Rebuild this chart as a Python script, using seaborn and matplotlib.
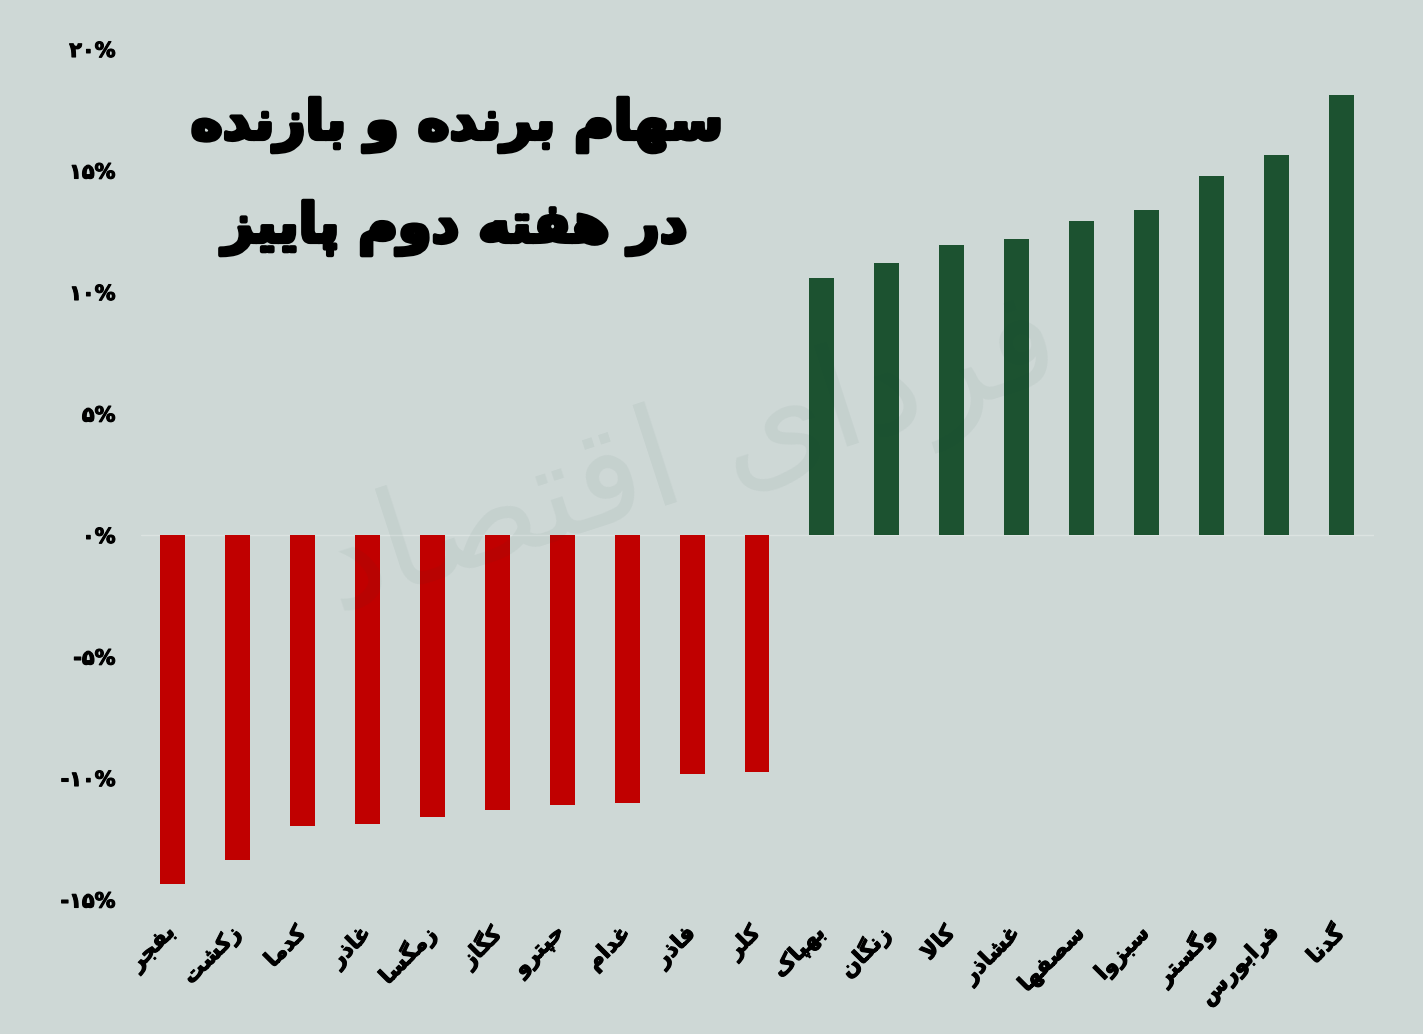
import matplotlib
matplotlib.use("Agg")
import matplotlib.pyplot as plt
import matplotlib.patheffects as pe
from matplotlib.transforms import ScaledTranslation
import seaborn as sns
import pandas as pd

# ---------------- data ----------------
names = ["بفجر", "زکشت", "کدما", "غاذر", "زمگسا", "کگاز", "حپترو", "غدام", "فاذر", "کلر",
         "بهپاک", "زنگان", "کالا", "غشاذر", "سصفها", "سبزوا", "وگستر", "فرابورس", "گدنا"]
values = [-14.36, -13.37, -11.98, -11.89, -11.60, -11.32, -11.11, -11.03, -9.84, -9.75,
          10.58, 11.19, 11.93, 12.18, 12.92, 13.37, 14.77, 15.64, 18.11]
ytick_values = [-15, -10, -5, 0, 5, 10, 15, 20]
ytick_labels = ["-۱۵%", "-۱۰%", "-۵%", "۰%", "۵%", "۱۰%", "۱۵%", "۲۰%"]
title_lines = ["سهام برنده و بازنده", "در هفته دوم پاییز"]
watermark = "فردای اقتصاد"

# ---------------- simple Persian shaping ----------------
FORMS = {
    'ا': ('\uFE8D', '\uFE8E', None, None),
    'ب': ('\uFE8F', '\uFE90', '\uFE91', '\uFE92'),
    'ت': ('\uFE95', '\uFE96', '\uFE97', '\uFE98'),
    'ث': ('\uFE99', '\uFE9A', '\uFE9B', '\uFE9C'),
    'ج': ('\uFE9D', '\uFE9E', '\uFE9F', '\uFEA0'),
    'ح': ('\uFEA1', '\uFEA2', '\uFEA3', '\uFEA4'),
    'خ': ('\uFEA5', '\uFEA6', '\uFEA7', '\uFEA8'),
    'د': ('\uFEA9', '\uFEAA', None, None),
    'ذ': ('\uFEAB', '\uFEAC', None, None),
    'ر': ('\uFEAD', '\uFEAE', None, None),
    'ز': ('\uFEAF', '\uFEB0', None, None),
    'س': ('\uFEB1', '\uFEB2', '\uFEB3', '\uFEB4'),
    'ش': ('\uFEB5', '\uFEB6', '\uFEB7', '\uFEB8'),
    'ص': ('\uFEB9', '\uFEBA', '\uFEBB', '\uFEBC'),
    'ض': ('\uFEBD', '\uFEBE', '\uFEBF', '\uFEC0'),
    'ط': ('\uFEC1', '\uFEC2', '\uFEC3', '\uFEC4'),
    'ظ': ('\uFEC5', '\uFEC6', '\uFEC7', '\uFEC8'),
    'ع': ('\uFEC9', '\uFECA', '\uFECB', '\uFECC'),
    'غ': ('\uFECD', '\uFECE', '\uFECF', '\uFED0'),
    'ف': ('\uFED1', '\uFED2', '\uFED3', '\uFED4'),
    'ق': ('\uFED5', '\uFED6', '\uFED7', '\uFED8'),
    'ل': ('\uFEDD', '\uFEDE', '\uFEDF', '\uFEE0'),
    'م': ('\uFEE1', '\uFEE2', '\uFEE3', '\uFEE4'),
    'ن': ('\uFEE5', '\uFEE6', '\uFEE7', '\uFEE8'),
    'ه': ('\uFEE9', '\uFEEA', '\uFEEB', '\uFEEC'),
    'و': ('\uFEED', '\uFEEE', None, None),
    'ی': ('\uFBFC', '\uFBFD', '\uFBFE', '\uFBFF'),
    'پ': ('\uFB56', '\uFB57', '\uFB58', '\uFB59'),
    'چ': ('\uFB7A', '\uFB7B', '\uFB7C', '\uFB7D'),
    'ژ': ('\uFB8A', '\uFB8B', None, None),
    'ک': ('\uFB8E', '\uFB8F', '\uFB90', '\uFB91'),
    'گ': ('\uFB92', '\uFB93', '\uFB94', '\uFB95'),
}


def dual(c):
    return c in FORMS and FORMS[c][2] is not None


def shape(text):
    out = []
    i = 0
    n = len(text)
    while i < n:
        c = text[i]
        if c not in FORMS:
            out.append(c)
            i += 1
            continue
        prev = text[i - 1] if i > 0 else ''
        prev_joins = dual(prev)
        if c == 'ل' and i + 1 < n and text[i + 1] == 'ا':
            out.append('\uFEFC' if prev_joins else '\uFEFB')
            i += 2
            continue
        nxt = text[i + 1] if i + 1 < n else ''
        next_joins = dual(c) and nxt in FORMS
        iso, fin, ini, med = FORMS[c]
        if prev_joins and next_joins:
            out.append(med)
        elif prev_joins:
            out.append(fin)
        elif next_joins:
            out.append(ini)
        else:
            out.append(iso)
        i += 1
    return ''.join(out)[::-1]


# ---------------- plot ----------------
BG = "#CED8D6"
RED = "#C00000"
GREEN = "#1C5230"

sns.set_theme(style="white")
plt.rcParams['font.family'] = ['DejaVu Sans']

df = pd.DataFrame({
    "name": names,
    "value": values,
    "group": ["loss" if v < 0 else "gain" for v in values],
})

fig = plt.figure(figsize=(14.23, 10.34), dpi=100, facecolor=BG)
ax = fig.add_axes([140.5 / 1423, 1 - 899.5 / 1034, (1373.5 - 140.5) / 1423, (899.5 - 49) / 1034])
ax.set_facecolor(BG)

sns.barplot(data=df, x="name", y="value", hue="group", order=names,
            palette={"loss": RED, "gain": GREEN}, dodge=False, width=0.385,
            saturation=1, linewidth=0, edgecolor="none",
            legend=False, ax=ax, zorder=2)

ax.axhline(0, color="#DCE3E1", lw=1.0, zorder=1)

ax.set_xlim(-0.5, len(names) - 0.5)
ax.set_ylim(-15, 20)
ax.set_yticks(ytick_values)
ax.set_yticklabels(ytick_labels, fontsize=15, fontweight="bold", color="black")
ax.set_xticks(range(len(names)))
ax.set_xticklabels([shape(s) for s in names], rotation=45, ha="right",
                   va="center", rotation_mode="anchor",
                   fontsize=16, fontweight="bold", color="black")
for lbl in ax.get_xticklabels() + ax.get_yticklabels():
    lbl.set_path_effects([pe.withStroke(linewidth=0.8, foreground="black")])
shift_up = ScaledTranslation(0, 4 / 100, fig.dpi_scale_trans)
for lbl in ax.get_yticklabels():
    lbl.set_transform(lbl.get_transform() + shift_up)
ax.tick_params(axis="x", length=0, pad=22)
ax.tick_params(axis="y", length=0, pad=18)
ax.set_xlabel("")
ax.set_ylabel("")
for sp in ax.spines.values():
    sp.set_visible(False)
ax.grid(False)

# title
stroke = [pe.withStroke(linewidth=3, foreground="black")]
fig.text(457 / 1423, 1 - 125 / 1034, shape(title_lines[0]), ha="center", va="center",
         fontsize=39, fontweight="bold", color="black", path_effects=stroke)
fig.text(455 / 1423, 1 - 228 / 1034, shape(title_lines[1]), ha="center", va="center",
         fontsize=39, fontweight="bold", color="black", path_effects=stroke)

# watermark
fig.text(690 / 1423, 1 - 460 / 1034, shape(watermark), ha="center", va="center",
         fontsize=100, color="#1a4a3a", alpha=0.05, rotation=18, zorder=10)

fig.savefig("out.png", dpi=100, facecolor=BG)
